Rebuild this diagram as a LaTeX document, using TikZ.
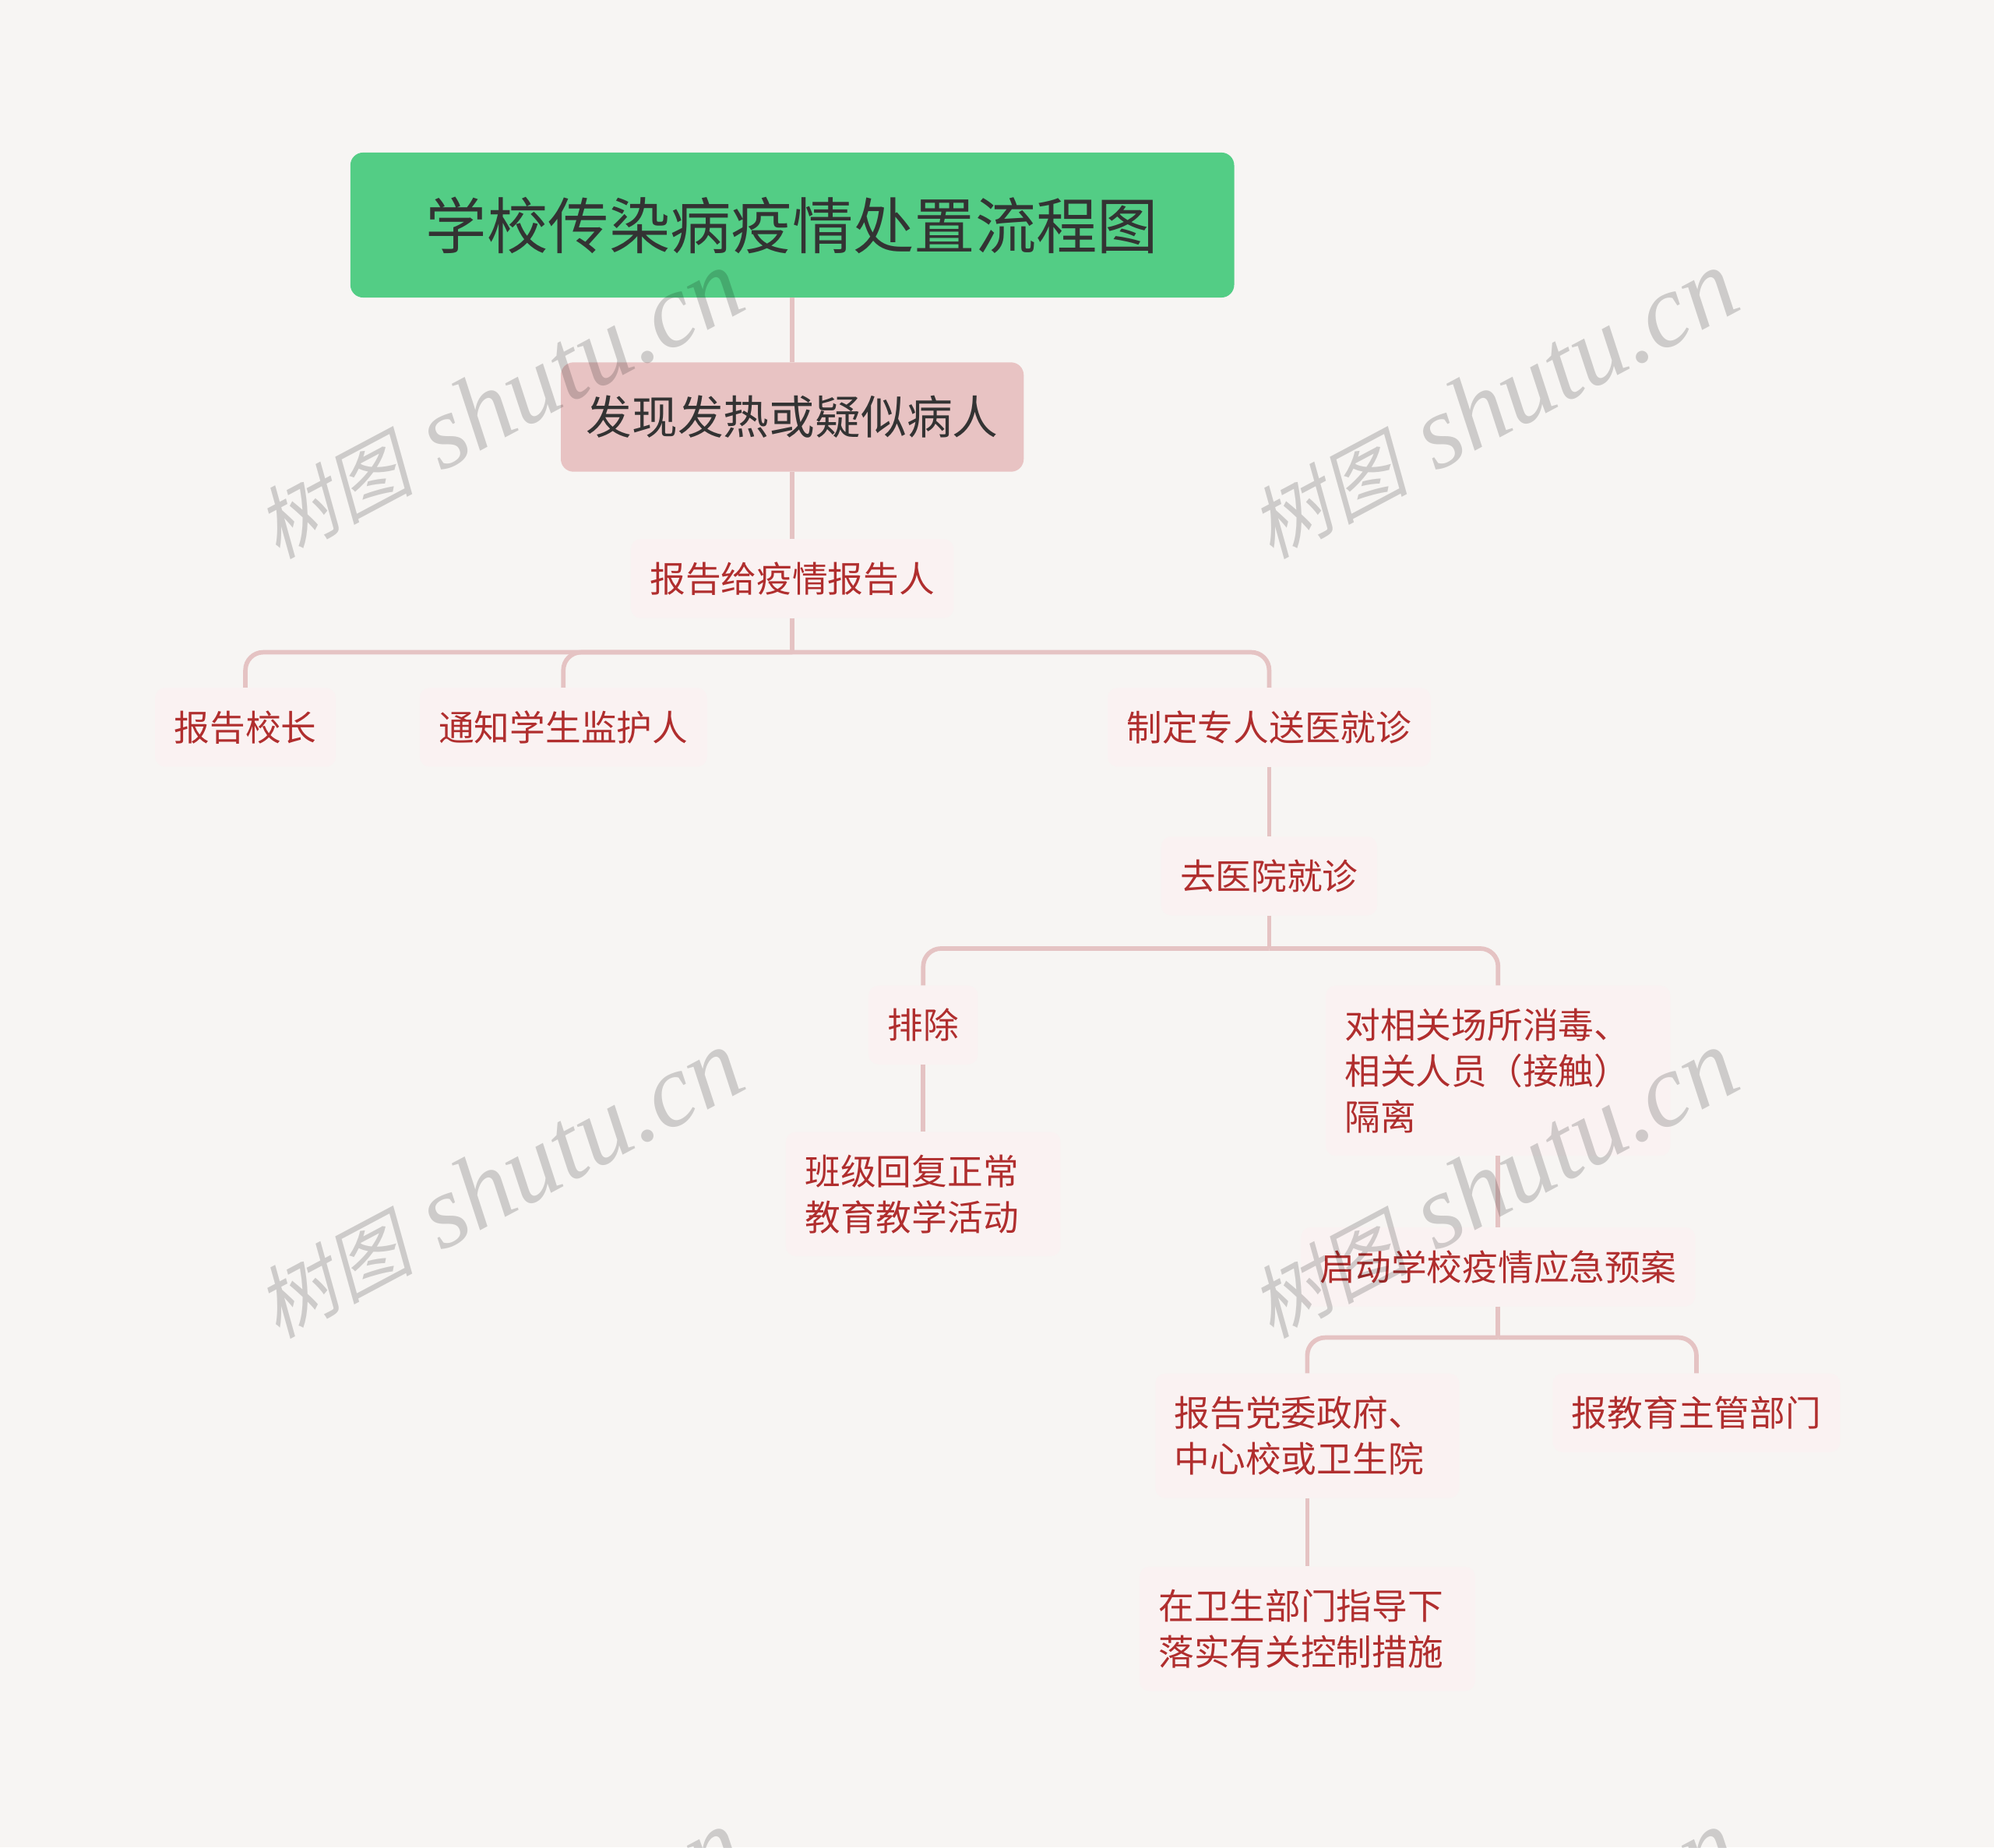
\documentclass[tikz,border=0pt]{standalone}
\usepackage{fontspec}
\setmainfont{Liberation Serif}
\newfontfamily\cjk{Noto Sans CJK SC}
\newfontfamily\cjkslant[FakeSlant=0.22]{Noto Sans CJK SC}
\definecolor{bgc}{HTML}{F7F5F3}
\definecolor{titlegreen}{HTML}{53CD85}
\definecolor{subpink}{HTML}{E8C3C3}
\definecolor{linkc}{HTML}{E5C3C3}
\definecolor{leaffill}{HTML}{FAF2F2}
\definecolor{leafred}{HTML}{B02E2E}
\definecolor{darktext}{HTML}{333333}
\begin{document}
\begin{tikzpicture}[x=1pt,y=-1pt,
  titlebox/.style={fill=titlegreen, rounded corners=10pt, minimum width=695pt, minimum height=114pt, inner sep=0pt, font=\cjk\fontsize{48}{58}\selectfont, text=darktext},
  subbox/.style={fill=subpink, rounded corners=10pt, minimum width=364pt, minimum height=86pt, inner sep=0pt, font=\cjk\fontsize{36}{44}\selectfont, text=darktext},
  leaf/.style={fill=leaffill, rounded corners=8pt, inner xsep=15pt, inner ysep=18pt, font=\cjk\fontsize{28}{36}\selectfont, text=leafred, align=left},
  link/.style={draw=linkc, line width=3.5pt},
  bus/.style={link, rounded corners=14pt},
  wm/.style={rotate=28, text=black, opacity=0.17, inner sep=0pt}]
\fill[bgc] (0,0) rectangle (1568,1453);
\useasboundingbox (0,0) rectangle (1568,1453);

\node[titlebox] (t) at (623,177) {学校传染病疫情处置流程图};
\node[subbox] (s) at (623,328) {发现发热或疑似病人};
\node[leaf] (r) at (623,455) {报告给疫情报告人};
\node[leaf] (c1) at (193,572) {报告校长};
\node[leaf] (c2) at (443,572) {通知学生监护人};
\node[leaf] (c3) at (998,572) {制定专人送医就诊};
\node[leaf] (h) at (998,689) {去医院就诊};
\node[leaf,anchor=north] (p) at (726,775) {排除};
\node[leaf,anchor=north,text width=241pt] (q) at (1178,775) {对相关场所消毒、\\相关人员（接触）\\隔离};
\node[leaf,anchor=north,text width=186pt] (b) at (726,890) {班级回复正常\\教育教学活动};
\node[leaf,anchor=north] (e) at (1178,965) {启动学校疫情应急预案};
\node[leaf,anchor=north,text width=209pt] (g) at (1028,1080) {报告党委政府、\\中心校或卫生院};
\node[leaf,anchor=north] (m) at (1334,1080) {报教育主管部门};
\node[leaf,anchor=north,text width=234pt] (w) at (1028,1232) {在卫生部门指导下\\落实有关控制措施};

\draw[link] (t.south) -- (s.north);
\draw[link] (s.south) -- (r.north);
\coordinate (rb) at (r.south |- 0,513);
\draw[link] (r.south) -- (rb);
\draw[bus] (rb) -| (c1.north);
\draw[bus] (rb) -| (c2.north);
\draw[bus] (rb) -| (c3.north);
\draw[link] (c3.south) -- (h.north);
\coordinate (hb) at (h.south |- 0,746);
\draw[link] (h.south) -- (hb);
\draw[bus] (hb) -| (p.north);
\draw[bus] (hb) -| (q.north);
\draw[link] (p.south) -- (b.north);
\draw[link] (q.south) -- (e.north);
\coordinate (eb) at (e.south |- 0,1052);
\draw[link] (e.south) -- (eb);
\draw[bus] (eb) -| (g.north);
\draw[bus] (eb) -| (m.north);
\draw[link] (g.south) -- (w.north);

\begin{scope}
\clip (0,0) rectangle (1568,1453);
\foreach \wx in {392,1174} {
  \foreach \wy in {318,931,1544} {
    \node[wm] (wm-\wx-\wy) at (\wx,\wy) {{\cjkslant\fontsize{62}{62}\selectfont 树图}\hspace{22pt}{\fontsize{82}{82}\selectfont\itshape shutu.cn}};
  }
}
\end{scope}
\end{tikzpicture}
\end{document}
